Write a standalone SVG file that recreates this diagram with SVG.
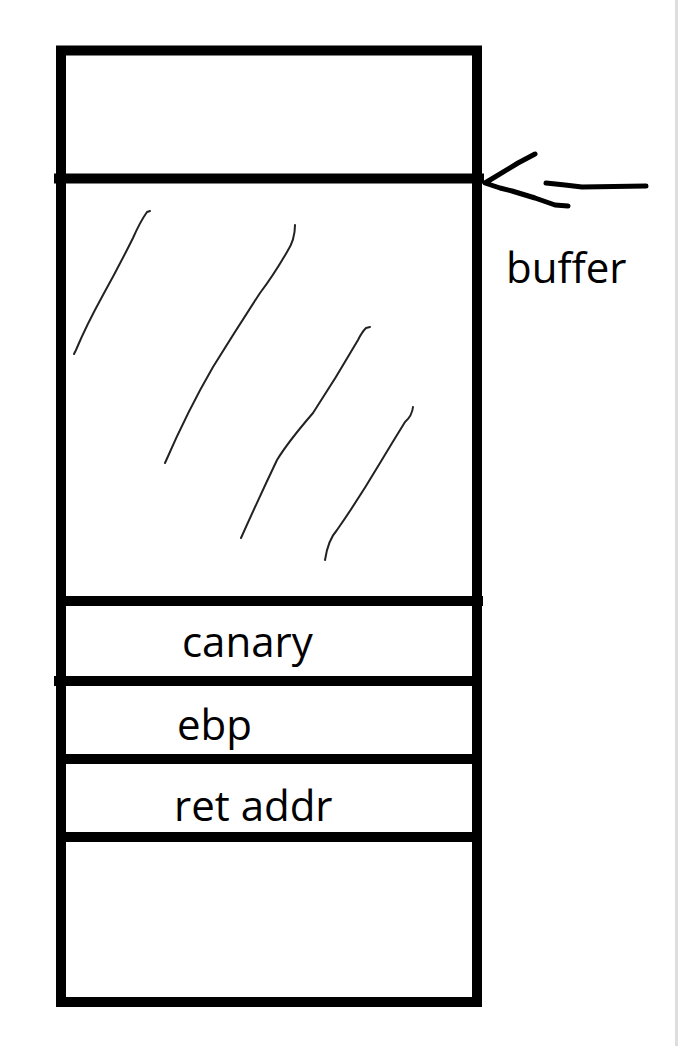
<svg xmlns="http://www.w3.org/2000/svg" width="678" height="1046" viewBox="0 0 678 1046">
<style>
.thick{stroke:#000;stroke-width:10;fill:none;stroke-linecap:butt}
.hatch{stroke:#222;stroke-width:2;fill:none;stroke-linecap:round;stroke-linejoin:round}
.pen{stroke:#000;stroke-width:5;fill:none;stroke-linecap:round;stroke-linejoin:round}
.lbl{font-family:"Open Sans","Liberation Sans",sans-serif;font-size:42px;fill:#000}
</style>
<rect width="678" height="1046" fill="#fff"/>
<line x1="676.5" y1="0" x2="676.5" y2="1046" stroke="#dedede" stroke-width="3"/>
<g id="stack">
<rect class="thick" x="61" y="50.5" width="416" height="951.5"/>
<line class="thick" x1="54" y1="178.5" x2="484" y2="178.5"/>
<line class="thick" x1="61" y1="601" x2="483" y2="601"/>
<line class="thick" x1="54" y1="681" x2="477" y2="681"/>
<line class="thick" x1="61" y1="759" x2="477" y2="759"/>
<line class="thick" x1="61" y1="837" x2="477" y2="837"/>
</g>
<g id="hatching">
<path class="hatch" d="M150,211 L147,212 Q140,222 133,238 Q118,268 103,295 Q86,326 76,350 L74,354"/>
<path class="hatch" d="M295,225 Q295,240 287,252 Q273,276 260,293 Q236,330 213,367 Q188,410 165,463"/>
<path class="hatch" d="M370,327 L366,328 Q362,332 358,340 Q336,378 313,413 Q288,442 277,460 Q258,500 241,538"/>
<path class="hatch" d="M413,407 Q412,416 405,422 Q392,443 380,463 Q358,500 337,530 Q328,540 325,560"/>
</g>
<g id="labels">
<text id="canary" class="lbl" x="182" y="657">canary</text>
<text id="ebp" class="lbl" x="177" y="740">ebp</text>
<text id="retaddr" class="lbl" x="174" y="821">ret addr</text>
<text id="buffer" class="lbl" x="506" y="283">buffer</text>
</g>
<g id="connectors">
<path class="pen" d="M535,154 L518,163 L485,183 L500,188 L512,191 L535,198 L555,205 L568,206"/>
<path class="pen" d="M546,183 L565,185 L582,187 L646,186"/>
</g>
</svg>
